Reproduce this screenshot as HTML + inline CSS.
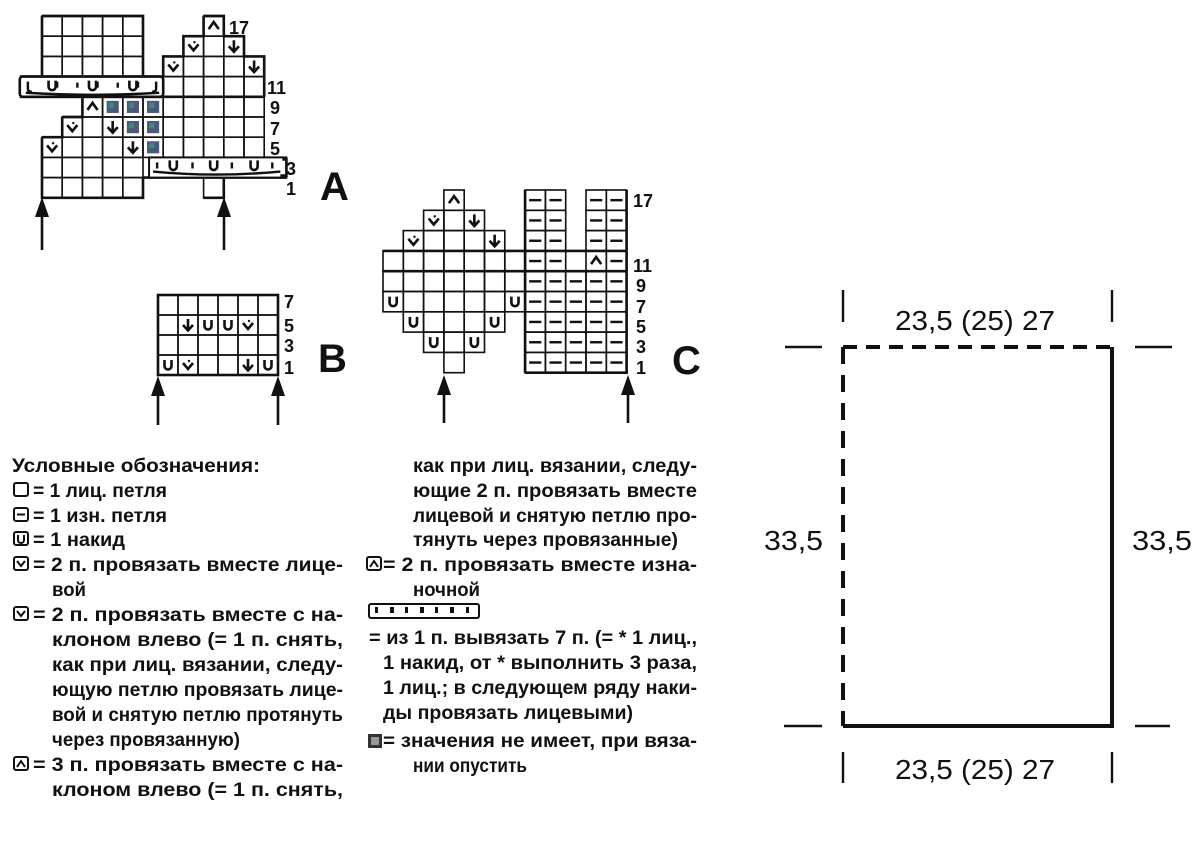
<!DOCTYPE html>
<html><head><meta charset="utf-8"><style>
html,body{margin:0;padding:0;background:#fff}
svg{display:block}
text{font-family:"Liberation Sans",sans-serif;fill:#111}
.b{font-weight:bold}
</style></head><body>
<svg width="1200" height="848" viewBox="0 0 1200 848" xmlns="http://www.w3.org/2000/svg">
<defs>
<g id="chev"><path d="M5 8 L10 14 L15 8" fill="none" stroke="#111" stroke-width="2.6"/><circle cx="11" cy="6" r="1.2" fill="#111"/></g>
<g id="dn"><path d="M10 4 V15 M5 10 L10 15.5 L15 10" fill="none" stroke="#111" stroke-width="2.6"/></g>
<g id="up"><path d="M5 13 L10 6 L15 13" fill="none" stroke="#111" stroke-width="2.6"/></g>
<g id="uu"><path d="M6.5 5 V11 A3.5 3.5 0 0 0 13.5 11 V5" fill="none" stroke="#111" stroke-width="2.6"/></g>
<g id="dash"><path d="M4 10 H16" stroke="#111" stroke-width="2.4"/></g>
<g id="col"><rect x="4" y="4" width="12" height="12" fill="#4c5a78"/><rect x="6" y="6" width="5" height="5" fill="#3b8a7a"/></g>
<rect id="c" width="20" height="20" fill="none" stroke="#111" stroke-width="1.6"/>
<path id="arr" d="M0 0 L-7 20 L7 20 Z" fill="#111"/>
</defs>

<!-- CHART A -->
<g transform="translate(42,16) scale(1.01)">
<use href="#c" x="0" y="0"/><use href="#c" x="20" y="0"/><use href="#c" x="40" y="0"/><use href="#c" x="60" y="0"/><use href="#c" x="80" y="0"/><use href="#c" x="160" y="0"/>
<use href="#c" x="0" y="20"/><use href="#c" x="20" y="20"/><use href="#c" x="40" y="20"/><use href="#c" x="60" y="20"/><use href="#c" x="80" y="20"/><use href="#c" x="140" y="20"/><use href="#c" x="160" y="20"/><use href="#c" x="180" y="20"/>
<use href="#c" x="0" y="40"/><use href="#c" x="20" y="40"/><use href="#c" x="40" y="40"/><use href="#c" x="60" y="40"/><use href="#c" x="80" y="40"/><use href="#c" x="120" y="40"/><use href="#c" x="140" y="40"/><use href="#c" x="160" y="40"/><use href="#c" x="180" y="40"/><use href="#c" x="200" y="40"/>
<use href="#c" x="120" y="60"/><use href="#c" x="140" y="60"/><use href="#c" x="160" y="60"/><use href="#c" x="180" y="60"/><use href="#c" x="200" y="60"/>
<use href="#c" x="40" y="80"/><use href="#c" x="60" y="80"/><use href="#c" x="80" y="80"/><use href="#c" x="100" y="80"/><use href="#c" x="120" y="80"/><use href="#c" x="140" y="80"/><use href="#c" x="160" y="80"/><use href="#c" x="180" y="80"/><use href="#c" x="200" y="80"/>
<use href="#c" x="20" y="100"/><use href="#c" x="40" y="100"/><use href="#c" x="60" y="100"/><use href="#c" x="80" y="100"/><use href="#c" x="100" y="100"/><use href="#c" x="120" y="100"/><use href="#c" x="140" y="100"/><use href="#c" x="160" y="100"/><use href="#c" x="180" y="100"/><use href="#c" x="200" y="100"/>
<use href="#c" x="0" y="120"/><use href="#c" x="20" y="120"/><use href="#c" x="40" y="120"/><use href="#c" x="60" y="120"/><use href="#c" x="80" y="120"/><use href="#c" x="100" y="120"/><use href="#c" x="120" y="120"/><use href="#c" x="140" y="120"/><use href="#c" x="160" y="120"/><use href="#c" x="180" y="120"/><use href="#c" x="200" y="120"/>
<use href="#c" x="0" y="140"/><use href="#c" x="20" y="140"/><use href="#c" x="40" y="140"/><use href="#c" x="60" y="140"/><use href="#c" x="80" y="140"/>
<use href="#c" x="0" y="160"/><use href="#c" x="20" y="160"/><use href="#c" x="40" y="160"/><use href="#c" x="60" y="160"/><use href="#c" x="80" y="160"/><use href="#c" x="160" y="160"/>
<path d="M0 0 H100 V60 M0 0 V60 M160 0 H180 V20 H200 V40 H220 V80 M160 0 V20 H140 V40 H120 V60 M-22 60 H120 M-22 80 H220 M20 100 H40 V80 M0 120 H20 V100 M0 120 V180 H100 V160 M160 180 H180 V160 M100 160 H242" fill="none" stroke="#111" stroke-width="2.6"/>
<rect x="-22" y="60" width="142" height="20" rx="3" fill="#fff" stroke="#111" stroke-width="2.6"/>
<g stroke="#111" stroke-width="2.4" fill="none">
<path d="M-14 65 V72 Q-14 75 -10 75"/><path d="M15 65 V71"/><path d="M35 66 V71"/><path d="M55 65 V71"/><path d="M75 66 V71"/><path d="M95 65 V71"/><path d="M113 65 V72 Q113 75 109 75"/>
<path d="M-16 76 Q50 80 116 76"/>
</g>
<use href="#uu" x="-0" y="59"/><use href="#uu" x="40" y="59"/><use href="#uu" x="80" y="59"/>
<rect x="106" y="140" width="136" height="20" fill="#fff" stroke="#111" stroke-width="2"/>
<path d="M238 142 H242 V158 H236" fill="none" stroke="#111" stroke-width="2.6"/>
<g stroke="#111" stroke-width="2.4" fill="none">
<path d="M114 145 V151"/><path d="M149 145 V151"/><path d="M188 145 V151"/><path d="M228 145 V151"/>
<path d="M110 154 Q172 160 236 154"/>
</g>
<use href="#uu" x="120" y="138"/><use href="#uu" x="160" y="138"/><use href="#uu" x="200" y="138"/>
<use href="#up" x="160" y="0"/><use href="#chev" x="140" y="20"/><use href="#dn" x="180" y="20"/><use href="#chev" x="120" y="40"/><use href="#dn" x="200" y="40"/>
<use href="#up" x="40" y="80"/><use href="#col" x="60" y="80"/><use href="#col" x="80" y="80"/><use href="#col" x="100" y="80"/>
<use href="#chev" x="20" y="100"/><use href="#dn" x="60" y="100"/><use href="#col" x="80" y="100"/><use href="#col" x="100" y="100"/>
<use href="#chev" x="0" y="120"/><use href="#dn" x="80" y="120"/><use href="#col" x="100" y="120"/>
</g>
<g font-size="18">
<text x="229" y="34" class="b">17</text><text x="267" y="94" class="b">11</text><text x="270" y="114" class="b">9</text><text x="270" y="135" class="b">7</text><text x="270" y="155" class="b">5</text><text x="286" y="175" class="b">3</text><text x="286" y="195" class="b">1</text>
</g>
<text x="320" y="200" font-size="40" class="b">A</text>
<line x1="42" y1="210" x2="42" y2="250" stroke="#111" stroke-width="2.6"/><use href="#arr" x="42" y="197"/>
<line x1="224" y1="210" x2="224" y2="250" stroke="#111" stroke-width="2.6"/><use href="#arr" x="224" y="197"/>

<!-- CHART B -->
<g transform="translate(158,295)">
<use href="#c" x="0" y="0"/><use href="#c" x="20" y="0"/><use href="#c" x="40" y="0"/><use href="#c" x="60" y="0"/><use href="#c" x="80" y="0"/><use href="#c" x="100" y="0"/>
<use href="#c" x="0" y="20"/><use href="#c" x="20" y="20"/><use href="#c" x="40" y="20"/><use href="#c" x="60" y="20"/><use href="#c" x="80" y="20"/><use href="#c" x="100" y="20"/>
<use href="#c" x="0" y="40"/><use href="#c" x="20" y="40"/><use href="#c" x="40" y="40"/><use href="#c" x="60" y="40"/><use href="#c" x="80" y="40"/><use href="#c" x="100" y="40"/>
<use href="#c" x="0" y="60"/><use href="#c" x="20" y="60"/><use href="#c" x="40" y="60"/><use href="#c" x="60" y="60"/><use href="#c" x="80" y="60"/><use href="#c" x="100" y="60"/>
<rect width="120" height="80" fill="none" stroke="#111" stroke-width="2.6"/>
<use href="#dn" x="20" y="20"/><use href="#uu" x="40" y="20"/><use href="#uu" x="60" y="20"/><use href="#chev" x="80" y="20"/>
<use href="#uu" x="0" y="60"/><use href="#chev" x="20" y="60"/><use href="#dn" x="80" y="60"/><use href="#uu" x="100" y="60"/>
</g>
<g font-size="18"><text x="284" y="308" class="b">7</text><text x="284" y="332" class="b">5</text><text x="284" y="352" class="b">3</text><text x="284" y="374" class="b">1</text></g>
<text x="318" y="372" font-size="40" class="b">B</text>
<line x1="158" y1="390" x2="158" y2="425" stroke="#111" stroke-width="2.6"/><use href="#arr" x="158" y="376"/>
<line x1="278" y1="390" x2="278" y2="425" stroke="#111" stroke-width="2.6"/><use href="#arr" x="278" y="376"/>

<!-- CHART C -->
<g transform="translate(383,190) scale(1.015)">
<use href="#c" x="60" y="0"/><use href="#c" x="140" y="0"/><use href="#c" x="160" y="0"/><use href="#c" x="200" y="0"/><use href="#c" x="220" y="0"/>
<use href="#c" x="40" y="20"/><use href="#c" x="60" y="20"/><use href="#c" x="80" y="20"/><use href="#c" x="140" y="20"/><use href="#c" x="160" y="20"/><use href="#c" x="200" y="20"/><use href="#c" x="220" y="20"/>
<use href="#c" x="20" y="40"/><use href="#c" x="40" y="40"/><use href="#c" x="60" y="40"/><use href="#c" x="80" y="40"/><use href="#c" x="100" y="40"/><use href="#c" x="140" y="40"/><use href="#c" x="160" y="40"/><use href="#c" x="200" y="40"/><use href="#c" x="220" y="40"/>
<use href="#c" x="0" y="60"/><use href="#c" x="20" y="60"/><use href="#c" x="40" y="60"/><use href="#c" x="60" y="60"/><use href="#c" x="80" y="60"/><use href="#c" x="100" y="60"/><use href="#c" x="120" y="60"/><use href="#c" x="140" y="60"/><use href="#c" x="160" y="60"/><use href="#c" x="200" y="60"/><use href="#c" x="220" y="60"/>
<use href="#c" x="0" y="80"/><use href="#c" x="20" y="80"/><use href="#c" x="40" y="80"/><use href="#c" x="60" y="80"/><use href="#c" x="80" y="80"/><use href="#c" x="100" y="80"/><use href="#c" x="120" y="80"/><use href="#c" x="140" y="80"/><use href="#c" x="160" y="80"/><use href="#c" x="180" y="80"/><use href="#c" x="200" y="80"/><use href="#c" x="220" y="80"/>
<use href="#c" x="0" y="100"/><use href="#c" x="20" y="100"/><use href="#c" x="40" y="100"/><use href="#c" x="60" y="100"/><use href="#c" x="80" y="100"/><use href="#c" x="100" y="100"/><use href="#c" x="120" y="100"/><use href="#c" x="140" y="100"/><use href="#c" x="160" y="100"/><use href="#c" x="180" y="100"/><use href="#c" x="200" y="100"/><use href="#c" x="220" y="100"/>
<use href="#c" x="20" y="120"/><use href="#c" x="40" y="120"/><use href="#c" x="60" y="120"/><use href="#c" x="80" y="120"/><use href="#c" x="100" y="120"/><use href="#c" x="140" y="120"/><use href="#c" x="160" y="120"/><use href="#c" x="180" y="120"/><use href="#c" x="200" y="120"/><use href="#c" x="220" y="120"/>
<use href="#c" x="40" y="140"/><use href="#c" x="60" y="140"/><use href="#c" x="80" y="140"/><use href="#c" x="140" y="140"/><use href="#c" x="160" y="140"/><use href="#c" x="180" y="140"/><use href="#c" x="200" y="140"/><use href="#c" x="220" y="140"/>
<use href="#c" x="60" y="160"/><use href="#c" x="140" y="160"/><use href="#c" x="160" y="160"/><use href="#c" x="180" y="160"/><use href="#c" x="200" y="160"/><use href="#c" x="220" y="160"/>
<path d="M0 60 H240 M0 80 H240 M140 180 H240 V0 M140 0 V180" fill="none" stroke="#111" stroke-width="2.6"/>
<g>
<use href="#dash" x="140" y="0"/><use href="#dash" x="160" y="0"/><use href="#dash" x="200" y="0"/><use href="#dash" x="220" y="0"/>
<use href="#dash" x="140" y="20"/><use href="#dash" x="160" y="20"/><use href="#dash" x="200" y="20"/><use href="#dash" x="220" y="20"/>
<use href="#dash" x="140" y="40"/><use href="#dash" x="160" y="40"/><use href="#dash" x="200" y="40"/><use href="#dash" x="220" y="40"/>
<use href="#dash" x="140" y="60"/><use href="#dash" x="160" y="60"/><use href="#up" x="200" y="60"/><use href="#dash" x="220" y="60"/>
<use href="#dash" x="140" y="80"/><use href="#dash" x="160" y="80"/><use href="#dash" x="180" y="80"/><use href="#dash" x="200" y="80"/><use href="#dash" x="220" y="80"/>
<use href="#dash" x="140" y="100"/><use href="#dash" x="160" y="100"/><use href="#dash" x="180" y="100"/><use href="#dash" x="200" y="100"/><use href="#dash" x="220" y="100"/>
<use href="#dash" x="140" y="120"/><use href="#dash" x="160" y="120"/><use href="#dash" x="180" y="120"/><use href="#dash" x="200" y="120"/><use href="#dash" x="220" y="120"/>
<use href="#dash" x="140" y="140"/><use href="#dash" x="160" y="140"/><use href="#dash" x="180" y="140"/><use href="#dash" x="200" y="140"/><use href="#dash" x="220" y="140"/>
<use href="#dash" x="140" y="160"/><use href="#dash" x="160" y="160"/><use href="#dash" x="180" y="160"/><use href="#dash" x="200" y="160"/><use href="#dash" x="220" y="160"/>
</g>
<use href="#up" x="60" y="0"/><use href="#chev" x="40" y="20"/><use href="#dn" x="80" y="20"/><use href="#chev" x="20" y="40"/><use href="#dn" x="100" y="40"/>
<use href="#uu" x="0" y="100"/><use href="#uu" x="120" y="100"/><use href="#uu" x="20" y="120"/><use href="#uu" x="100" y="120"/><use href="#uu" x="40" y="140"/><use href="#uu" x="80" y="140"/>
</g>
<g font-size="18">
<text x="633" y="207" class="b">17</text><text x="633" y="272" class="b">11</text><text x="636" y="292" class="b">9</text><text x="636" y="313" class="b">7</text><text x="636" y="333" class="b">5</text><text x="636" y="353" class="b">3</text><text x="636" y="374" class="b">1</text>
</g>
<text x="672" y="374" font-size="40" class="b">C</text>
<line x1="444" y1="392" x2="444" y2="423" stroke="#111" stroke-width="2.6"/><use href="#arr" x="444" y="375"/>
<line x1="628" y1="392" x2="628" y2="423" stroke="#111" stroke-width="2.6"/><use href="#arr" x="628" y="375"/>

<!-- LEGEND left -->
<g font-size="19" class="b">
<text x="12" y="472" textLength="248" lengthAdjust="spacingAndGlyphs">Условные обозначения:</text>
<text x="33" y="497" textLength="134" lengthAdjust="spacingAndGlyphs">= 1 лиц. петля</text>
<text x="33" y="522" textLength="134" lengthAdjust="spacingAndGlyphs">= 1 изн. петля</text>
<text x="33" y="546" textLength="92" lengthAdjust="spacingAndGlyphs">= 1 накид</text>
<text x="33" y="571" textLength="310" lengthAdjust="spacingAndGlyphs">= 2 п. провязать вместе лице-</text>
<text x="52" y="596" textLength="34" lengthAdjust="spacingAndGlyphs">вой</text>
<text x="33" y="621" textLength="310" lengthAdjust="spacingAndGlyphs">= 2 п. провязать вместе с на-</text>
<text x="52" y="646" textLength="291" lengthAdjust="spacingAndGlyphs">клоном влево (= 1 п. снять,</text>
<text x="52" y="671" textLength="291" lengthAdjust="spacingAndGlyphs">как при лиц. вязании, следу-</text>
<text x="52" y="696" textLength="291" lengthAdjust="spacingAndGlyphs">ющую петлю провязать лице-</text>
<text x="52" y="721" textLength="291" lengthAdjust="spacingAndGlyphs">вой и снятую петлю протянуть</text>
<text x="52" y="746" textLength="188" lengthAdjust="spacingAndGlyphs">через провязанную)</text>
<text x="33" y="771" textLength="310" lengthAdjust="spacingAndGlyphs">= 3 п. провязать вместе с на-</text>
<text x="52" y="796" textLength="291" lengthAdjust="spacingAndGlyphs">клоном влево (= 1 п. снять,</text>
</g>
<g fill="none" stroke="#111" stroke-width="2">
<rect x="14" y="483" width="14" height="13" rx="2"/>
<rect x="14" y="508" width="14" height="13" rx="2"/><path d="M17 514.5 H25"/>
<rect x="14" y="532" width="14" height="13" rx="2"/><path d="M18 535 V540 A3 3 0 0 0 24 540 V535"/>
<rect x="14" y="557" width="14" height="13" rx="2"/><path d="M17 561 L21 566 L25 561"/>
<rect x="14" y="607" width="14" height="13" rx="2"/><path d="M17 611 L21 616 L25 611"/>
<rect x="14" y="757" width="14" height="13" rx="2"/><path d="M17 767 L21 761 L25 767"/>
</g>

<!-- LEGEND right -->
<g font-size="19" class="b">
<text x="413" y="472" textLength="284" lengthAdjust="spacingAndGlyphs">как при лиц. вязании, следу-</text>
<text x="413" y="497" textLength="284" lengthAdjust="spacingAndGlyphs">ющие 2 п. провязать вместе</text>
<text x="413" y="522" textLength="284" lengthAdjust="spacingAndGlyphs">лицевой и снятую петлю про-</text>
<text x="413" y="546" textLength="265" lengthAdjust="spacingAndGlyphs">тянуть через провязанные)</text>
<text x="383" y="571" textLength="314" lengthAdjust="spacingAndGlyphs">= 2 п. провязать вместе изна-</text>
<text x="413" y="596" textLength="67" lengthAdjust="spacingAndGlyphs">ночной</text>
<text x="369" y="644" textLength="328" lengthAdjust="spacingAndGlyphs">= из 1 п. вывязать 7 п. (= * 1 лиц.,</text>
<text x="383" y="669" textLength="314" lengthAdjust="spacingAndGlyphs">1 накид, от * выполнить 3 раза,</text>
<text x="383" y="694" textLength="314" lengthAdjust="spacingAndGlyphs">1 лиц.; в следующем ряду наки-</text>
<text x="383" y="719" textLength="250" lengthAdjust="spacingAndGlyphs">ды провязать лицевыми)</text>
<text x="383" y="747" textLength="314" lengthAdjust="spacingAndGlyphs">= значения не имеет, при вяза-</text>
<text x="413" y="772" textLength="114" lengthAdjust="spacingAndGlyphs">нии опустить</text>
</g>
<g fill="none" stroke="#111" stroke-width="2">
<rect x="367" y="557" width="14" height="13" rx="2"/><path d="M370 567 L374 561 L378 567"/>
<rect x="369" y="604" width="110" height="14" rx="2"/>
</g>
<g fill="#111"><rect x="375" y="607" width="3" height="6"/><rect x="390" y="607" width="4" height="6"/><rect x="405" y="607" width="3" height="6"/><rect x="420" y="607" width="4" height="6"/><rect x="435" y="607" width="3" height="6"/><rect x="450" y="607" width="4" height="6"/><rect x="466" y="607" width="3" height="6"/></g>
<rect x="368" y="734" width="14" height="14" fill="#333"/><rect x="371" y="737" width="8" height="8" fill="#999"/>

<!-- Schematic -->
<g stroke="#111" stroke-width="2.4">
<line x1="843" y1="290" x2="843" y2="322"/><line x1="1112" y1="290" x2="1112" y2="322"/>
<line x1="843" y1="752" x2="843" y2="783"/><line x1="1112" y1="752" x2="1112" y2="783"/>
<line x1="785" y1="347" x2="822" y2="347"/><line x1="1135" y1="347" x2="1172" y2="347"/>
<line x1="784" y1="726" x2="822" y2="726"/><line x1="1135" y1="726" x2="1170" y2="726"/>
</g>
<path d="M843 347 H1112" stroke="#111" stroke-width="4" stroke-dasharray="14 9" fill="none"/>
<path d="M843 347 V726" stroke="#111" stroke-width="4" stroke-dasharray="17 11" fill="none"/>
<path d="M1112 347 V726 H843" stroke="#111" stroke-width="4" fill="none"/>
<g font-size="28">
<text x="895" y="330" textLength="160" lengthAdjust="spacingAndGlyphs">23,5 (25) 27</text>
<text x="895" y="779" textLength="160" lengthAdjust="spacingAndGlyphs">23,5 (25) 27</text>
<text x="764" y="550" textLength="59" lengthAdjust="spacingAndGlyphs">33,5</text>
<text x="1132" y="550" textLength="60" lengthAdjust="spacingAndGlyphs">33,5</text>
</g>
</svg>
</body></html>
